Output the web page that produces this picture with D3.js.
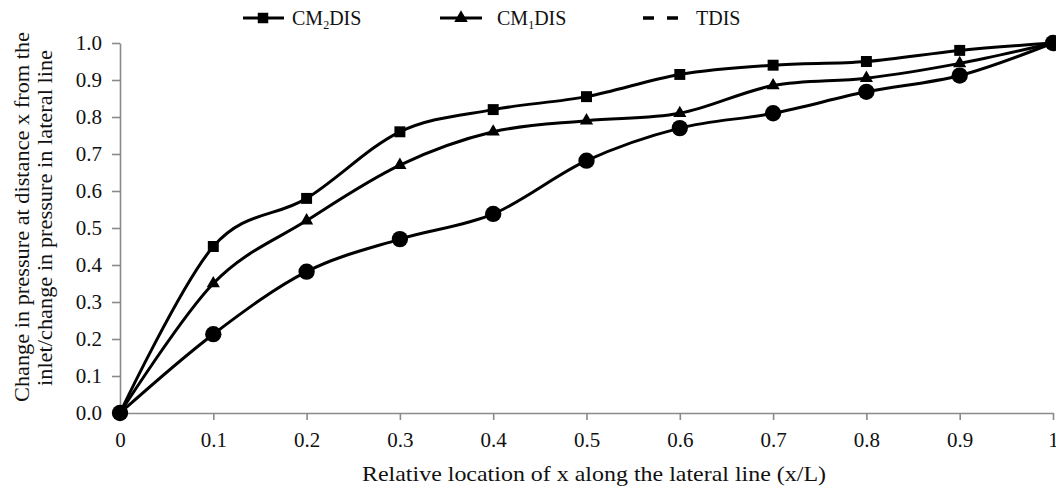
<!DOCTYPE html>
<html>
<head>
<meta charset="utf-8">
<script src="https://cdn.jsdelivr.net/npm/d3@7"></script>
<style>
  body { margin: 0; background: #fff; }
  svg text { font-family: 'Liberation Serif', 'DejaVu Serif', serif; fill: #111; }
</style>
</head>
<body>
<div id="chart"></div>
<script>
var xValues = [0, 0.1, 0.2, 0.3, 0.4, 0.5, 0.6, 0.7, 0.8, 0.9, 1];
var cm2dis = [0, 0.45, 0.58, 0.76, 0.82, 0.855, 0.915, 0.94, 0.95, 0.98, 1];
var cm1dis = [0, 0.35, 0.52, 0.67, 0.76, 0.79, 0.81, 0.885, 0.905, 0.945, 1];
var tdis = [0, 0.213, 0.382, 0.47, 0.538, 0.682, 0.77, 0.81, 0.868, 0.912, 1];
var xTickLabels = ["0", "0.1", "0.2", "0.3", "0.4", "0.5", "0.6", "0.7", "0.8", "0.9", "1"];
var yTicks = [0, 0.1, 0.2, 0.3, 0.4, 0.5, 0.6, 0.7, 0.8, 0.9, 1];

var width = 1056, height = 489;
var margin = { top: 43, right: 3, bottom: 76, left: 120 };
var w = width - margin.left - margin.right;
var h = height - margin.top - margin.bottom;
var serif = "'Liberation Serif', 'DejaVu Serif', serif";

var svg = d3.select("#chart")
    .append("svg")
    .attr("width", width)
    .attr("height", height);

var g = svg.append("g")
    .attr("transform", "translate(" + margin.left + "," + margin.top + ")");

var x = d3.scaleLinear().domain([0, 1]).range([0, w]);
var y = d3.scaleLinear().domain([0, 1]).range([h, 0]);

// axes
var xAxis = g.append("g")
    .attr("transform", "translate(0," + h + ")")
    .call(d3.axisBottom(x).tickValues(xValues)
        .tickFormat(function (d, i) { return xTickLabels[i]; })
        .tickSize(7).tickSizeOuter(0).tickPadding(12));

var yAxis = g.append("g")
    .call(d3.axisLeft(y).tickValues(yTicks)
        .tickFormat(d3.format(".1f"))
        .tickSize(8).tickSizeOuter(0).tickPadding(10));

[xAxis, yAxis].forEach(function (a) {
    a.attr("font-family", serif).attr("font-size", 21);
    a.select(".domain").attr("stroke", "#8a8a8a").attr("stroke-width", 1.6);
    a.selectAll(".tick line").attr("stroke", "#8a8a8a").attr("stroke-width", 1.6);
    a.selectAll(".tick text")
        .style("font-family", serif)
        .style("font-size", "21px")
        .attr("fill", "#111");
});
xAxis.selectAll(".tick").filter(function (d) { return d === 0; }).select("line").remove();

// axis titles
svg.append("text")
    .attr("x", 362)
    .attr("y", 481)
    .attr("textLength", 464)
    .attr("lengthAdjust", "spacingAndGlyphs")
    .style("font-size", "21px")
    .text("Relative location of x along the lateral line (x/L)");

var yTitle = svg.append("text")
    .attr("transform", "rotate(-90)")
    .style("font-size", "21px");
yTitle.append("tspan").attr("x", -402).attr("y", 29)
    .attr("textLength", 370).attr("lengthAdjust", "spacingAndGlyphs")
    .text("Change in pressure at distance x from the");
yTitle.append("tspan").attr("x", -386).attr("y", 52)
    .attr("textLength", 336).attr("lengthAdjust", "spacingAndGlyphs")
    .text("inlet/change in pressure in lateral line");

// series
var line = d3.line()
    .x(function (d, i) { return x(xValues[i]); })
    .y(function (d) { return y(d); })
    .curve(d3.curveCardinal.tension(0));

var series = [
    { name: "TDIS", values: tdis, symbol: d3.symbolCircle, size: 210 },
    { name: "CM1DIS", values: cm1dis, symbol: d3.symbolTriangle, size: 75 },
    { name: "CM2DIS", values: cm2dis, symbol: d3.symbolSquare, size: 120 }
];

series.forEach(function (s) {
    g.append("path")
        .datum(s.values)
        .attr("fill", "none")
        .attr("stroke", "#000")
        .attr("stroke-width", 3)
        .attr("d", line);

    g.selectAll(".m-" + s.name)
        .data(s.values)
        .enter()
        .append("path")
        .attr("class", "m-" + s.name)
        .attr("transform", function (d, i) {
            return "translate(" + x(xValues[i]) + "," + y(d) + ")";
        })
        .attr("d", d3.symbol().type(s.symbol).size(s.size))
        .attr("fill", "#000");
});

// legend
var legend = svg.append("g");
var legendY = 18;

legend.append("line").attr("x1", 243).attr("x2", 284).attr("y1", legendY).attr("y2", legendY)
    .attr("stroke", "#000").attr("stroke-width", 3);
legend.append("path").attr("transform", "translate(263," + legendY + ")")
    .attr("d", d3.symbol().type(d3.symbolSquare).size(110)).attr("fill", "#000");
var t1 = legend.append("text").attr("x", 292).attr("y", legendY + 7).style("font-size", "20px");
t1.append("tspan").text("CM");
t1.append("tspan").attr("dy", 4).style("font-size", "12px").text("2");
t1.append("tspan").attr("dy", -4).text("DIS");

legend.append("line").attr("x1", 440).attr("x2", 482).attr("y1", legendY).attr("y2", legendY)
    .attr("stroke", "#000").attr("stroke-width", 3);
legend.append("path").attr("transform", "translate(461," + legendY + ")")
    .attr("d", d3.symbol().type(d3.symbolTriangle).size(80)).attr("fill", "#000");
var t2 = legend.append("text").attr("x", 497).attr("y", legendY + 7).style("font-size", "20px");
t2.append("tspan").text("CM");
t2.append("tspan").attr("dy", 4).style("font-size", "12px").text("1");
t2.append("tspan").attr("dy", -4).text("DIS");

legend.append("line").attr("x1", 643).attr("x2", 678).attr("y1", legendY).attr("y2", legendY)
    .attr("stroke", "#000").attr("stroke-width", 3.5).attr("stroke-dasharray", "11,13");
legend.append("text").attr("x", 696).attr("y", legendY + 7).style("font-size", "20px").text("TDIS");
</script>
</body>
</html>
